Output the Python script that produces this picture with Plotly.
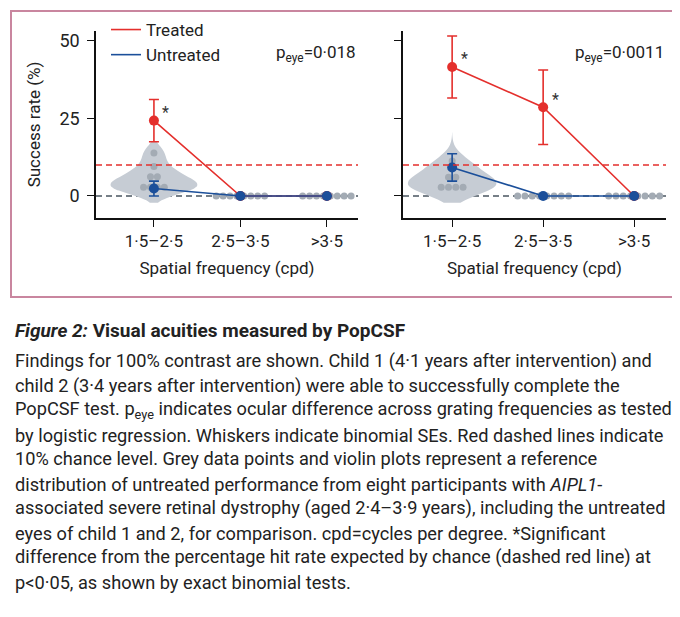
# PopCSF success rates, treated vs untreated eyes, two children

import numpy as np
import plotly.graph_objects as go

# categories (spatial frequency bins)
categories = ['1·5–2·5', '2·5–3·5', '>3·5']
cat_pos = [0, 1, 2]

# child 1 (left panel)
c1_treated = [24.3, 0, 0]
c1_treated_se = [6.8, np.nan, np.nan]
c1_untreated = [2.4, 0, 0]
c1_untreated_se = [2.4, np.nan, np.nan]
c1_peye = 'p<sub>eye</sub>=0·018'
c1_signif = [True, False, False]

# child 2 (right panel)
c2_treated = [41.6, 28.6, 0]
c2_treated_se = [10.0, 12.0, np.nan]
c2_untreated = [9.2, 0, 0]
c2_untreated_se = [4.4, np.nan, np.nan]
c2_peye = 'p<sub>eye</sub>=0·0011'
c2_signif = [True, True, False]

# reference distribution (eight untreated eyes) per bin
ref1 = [[13.9, 9.5, 6.2, 6.2, 2.8, 2.8, 2.8, 2.8], [0] * 8, [0] * 8]
ref2 = [[11.3, 9.2, 6.0, 6.0, 2.8, 2.8, 2.8, 2.8], [0] * 8, [0] * 8]

chance = 10

caption = [
    '<b><i>Figure 2:</i> Visual acuities measured by PopCSF</b>',
    'Findings for 100% contrast are shown. Child 1 (4·1 years after intervention) and',
    'child 2 (3·4 years after intervention) were able to successfully complete the',
    'PopCSF test. p<sub>eye</sub> indicates ocular difference across grating frequencies as tested',
    'by logistic regression. Whiskers indicate binomial SEs. Red dashed lines indicate',
    '10% chance level. Grey data points and violin plots represent a reference',
    'distribution of untreated performance from eight participants with <i>AIPL1</i>-',
    'associated severe retinal dystrophy (aged 2·4–3·9 years), including the untreated',
    'eyes of child 1 and 2, for comparison. cpd=cycles per degree. *Significant',
    'difference from the percentage hit rate expected by chance (dashed red line) at',
    'p&lt;0·05, as shown by exact binomial tests.',
]

RED = '#e42f2c'
BLUE = '#1b4f9a'
DOT = '#a3abb4'
VIOLIN = '#c6ccd4'
FONT = 'Roboto, sans-serif'
W, H = 680, 617


def swarm(values, pos, step=0.08):
    # spread equal values sideways, like a beeswarm
    xs, ys = [], []
    for v in sorted(set(values), reverse=True):
        n = values.count(v)
        for i in range(n):
            xs.append(pos + (i - (n - 1) / 2) * step)
            ys.append(v)
    return xs, ys


fig = go.Figure()

panels = [
    (c1_treated, c1_treated_se, c1_untreated, c1_untreated_se, ref1, c1_signif, c1_peye,
     'x', 'y', 2.4, 1.0, [-2.2, 17.5]),
    (c2_treated, c2_treated_se, c2_untreated, c2_untreated_se, ref2, c2_signif, c2_peye,
     'x2', 'y2', 3.0, 0.97, [-2.2, 20.5]),
]

for tr, tr_se, un, un_se, ref, sig, peye, xa, ya, bw, vw, span in panels:
    # violin for the first bin only
    fig.add_trace(go.Violin(x=[cat_pos[0]] * len(ref[0]), y=ref[0], xaxis=xa, yaxis=ya,
                            bandwidth=bw, width=vw, scalemode='width', points=False,
                            spanmode='manual', span=span,
                            fillcolor=VIOLIN, line=dict(width=0), hoveron='violins',
                            showlegend=False))
    for k, vals in enumerate(ref):
        sx, sy = swarm(vals, cat_pos[k])
        fig.add_trace(go.Scatter(x=sx, y=sy, xaxis=xa, yaxis=ya, mode='markers',
                                 marker=dict(size=7, color=DOT), showlegend=False))
    fig.add_trace(go.Scatter(x=cat_pos, y=tr, xaxis=xa, yaxis=ya, mode='lines+markers',
                             line=dict(color=RED, width=1.6),
                             marker=dict(size=10, color=RED),
                             error_y=dict(type='data', array=tr_se, color=RED,
                                          thickness=1.6, width=5),
                             showlegend=False))
    fig.add_trace(go.Scatter(x=cat_pos, y=un, xaxis=xa, yaxis=ya, mode='lines+markers',
                             line=dict(color=BLUE, width=1.6),
                             marker=dict(size=10, color=BLUE),
                             error_y=dict(type='data', array=un_se, color=BLUE,
                                          thickness=1.6, width=5),
                             showlegend=False))
    # asterisks
    for k in range(3):
        if sig[k]:
            fig.add_annotation(x=cat_pos[k], y=tr[k], xref=xa, yref=ya, text='*',
                               showarrow=False, xshift=12, yshift=8,
                               font=dict(size=16, color='#333'))
    fig.add_annotation(x=1, y=50, xref=xa + ' domain', yref=ya, text=peye,
                       showarrow=False, xanchor='right', yanchor='middle', yshift=-13,
                       font=dict(size=17, color='#222'))
    # chance line and zero line
    fig.add_shape(type='line', xref=xa + ' domain', yref=ya, x0=0, x1=1, y0=chance, y1=chance,
                  line=dict(color=RED, width=1.6, dash='6px,4px'))
    fig.add_shape(type='line', xref=xa + ' domain', yref=ya, x0=0, x1=1, y0=0, y1=0,
                  line=dict(color='#4a5560', width=1.4, dash='6px,4px'), layer='below')

# legend entries
fig.add_trace(go.Scatter(x=[None], y=[None], mode='lines', name='Treated',
                         line=dict(color=RED, width=1.6)))
fig.add_trace(go.Scatter(x=[None], y=[None], mode='lines', name='Untreated',
                         line=dict(color=BLUE, width=1.6)))

# caption
cap_y = [322, 353, 378, 402, 427, 451, 476, 500, 525, 549, 574]
for i, (t, py) in enumerate(zip(caption, cap_y)):
    fig.add_annotation(x=5 / W, y=1 - py / H, xref='paper', yref='paper', text=t,
                       showarrow=False, xanchor='left', yanchor='middle',
                       font=dict(size=19 if i == 0 else 18.2, color='#222', family=FONT))

# pink frame round the chart
fig.add_shape(type='rect', xref='paper', yref='paper', x0=3 / W, x1=676 / W,
              y0=1 - 289 / H, y1=1 - 3 / H, line=dict(color='#c9869f', width=2))

axis_common = dict(showline=True, linecolor='#111', linewidth=1.5, ticks='outside',
                   ticklen=7, tickcolor='#111', showgrid=False, zeroline=False,
                   tickfont=dict(size=17, color='#222'))

ydom = [1 - 210 / H, 1 - 23 / H]
fig.update_layout(
    width=W, height=H, margin=dict(l=0, r=0, t=0, b=0),
    paper_bgcolor='white', plot_bgcolor='white',
    font=dict(family=FONT, color='#222'),
    xaxis=dict(domain=[88 / W, 350 / W], range=[-0.67, 2.36], tickvals=cat_pos,
               ticktext=categories, anchor='y', **axis_common,
               title=dict(text='Spatial frequency (cpd)', font=dict(size=17), standoff=12)),
    xaxis2=dict(domain=[395 / W, 658 / W], range=[-0.54, 2.35], tickvals=cat_pos,
                ticktext=categories, anchor='y2', **axis_common,
                title=dict(text='Spatial frequency (cpd)', font=dict(size=17), standoff=12)),
    yaxis=dict(domain=ydom, range=[-7.1, 53.2], tickvals=[0, 25, 50], anchor='x',
               ticklabelstandoff=4, **axis_common,
               title=dict(text='Success rate (%)', font=dict(size=17), standoff=14)),
    yaxis2=dict(domain=ydom, range=[-7.1, 53.2], tickvals=[0, 25, 50], anchor='x2',
                showticklabels=False, **axis_common),
    legend=dict(x=98 / W, y=1 - 4 / H, xanchor='left', yanchor='top',
                bgcolor='rgba(0,0,0,0)', font=dict(size=17), tracegroupgap=0),
    violinmode='overlay',
)
fig.update_yaxes(tickfont=dict(size=18), selector=dict(anchor='x'))

fig.write_html('out.html')
